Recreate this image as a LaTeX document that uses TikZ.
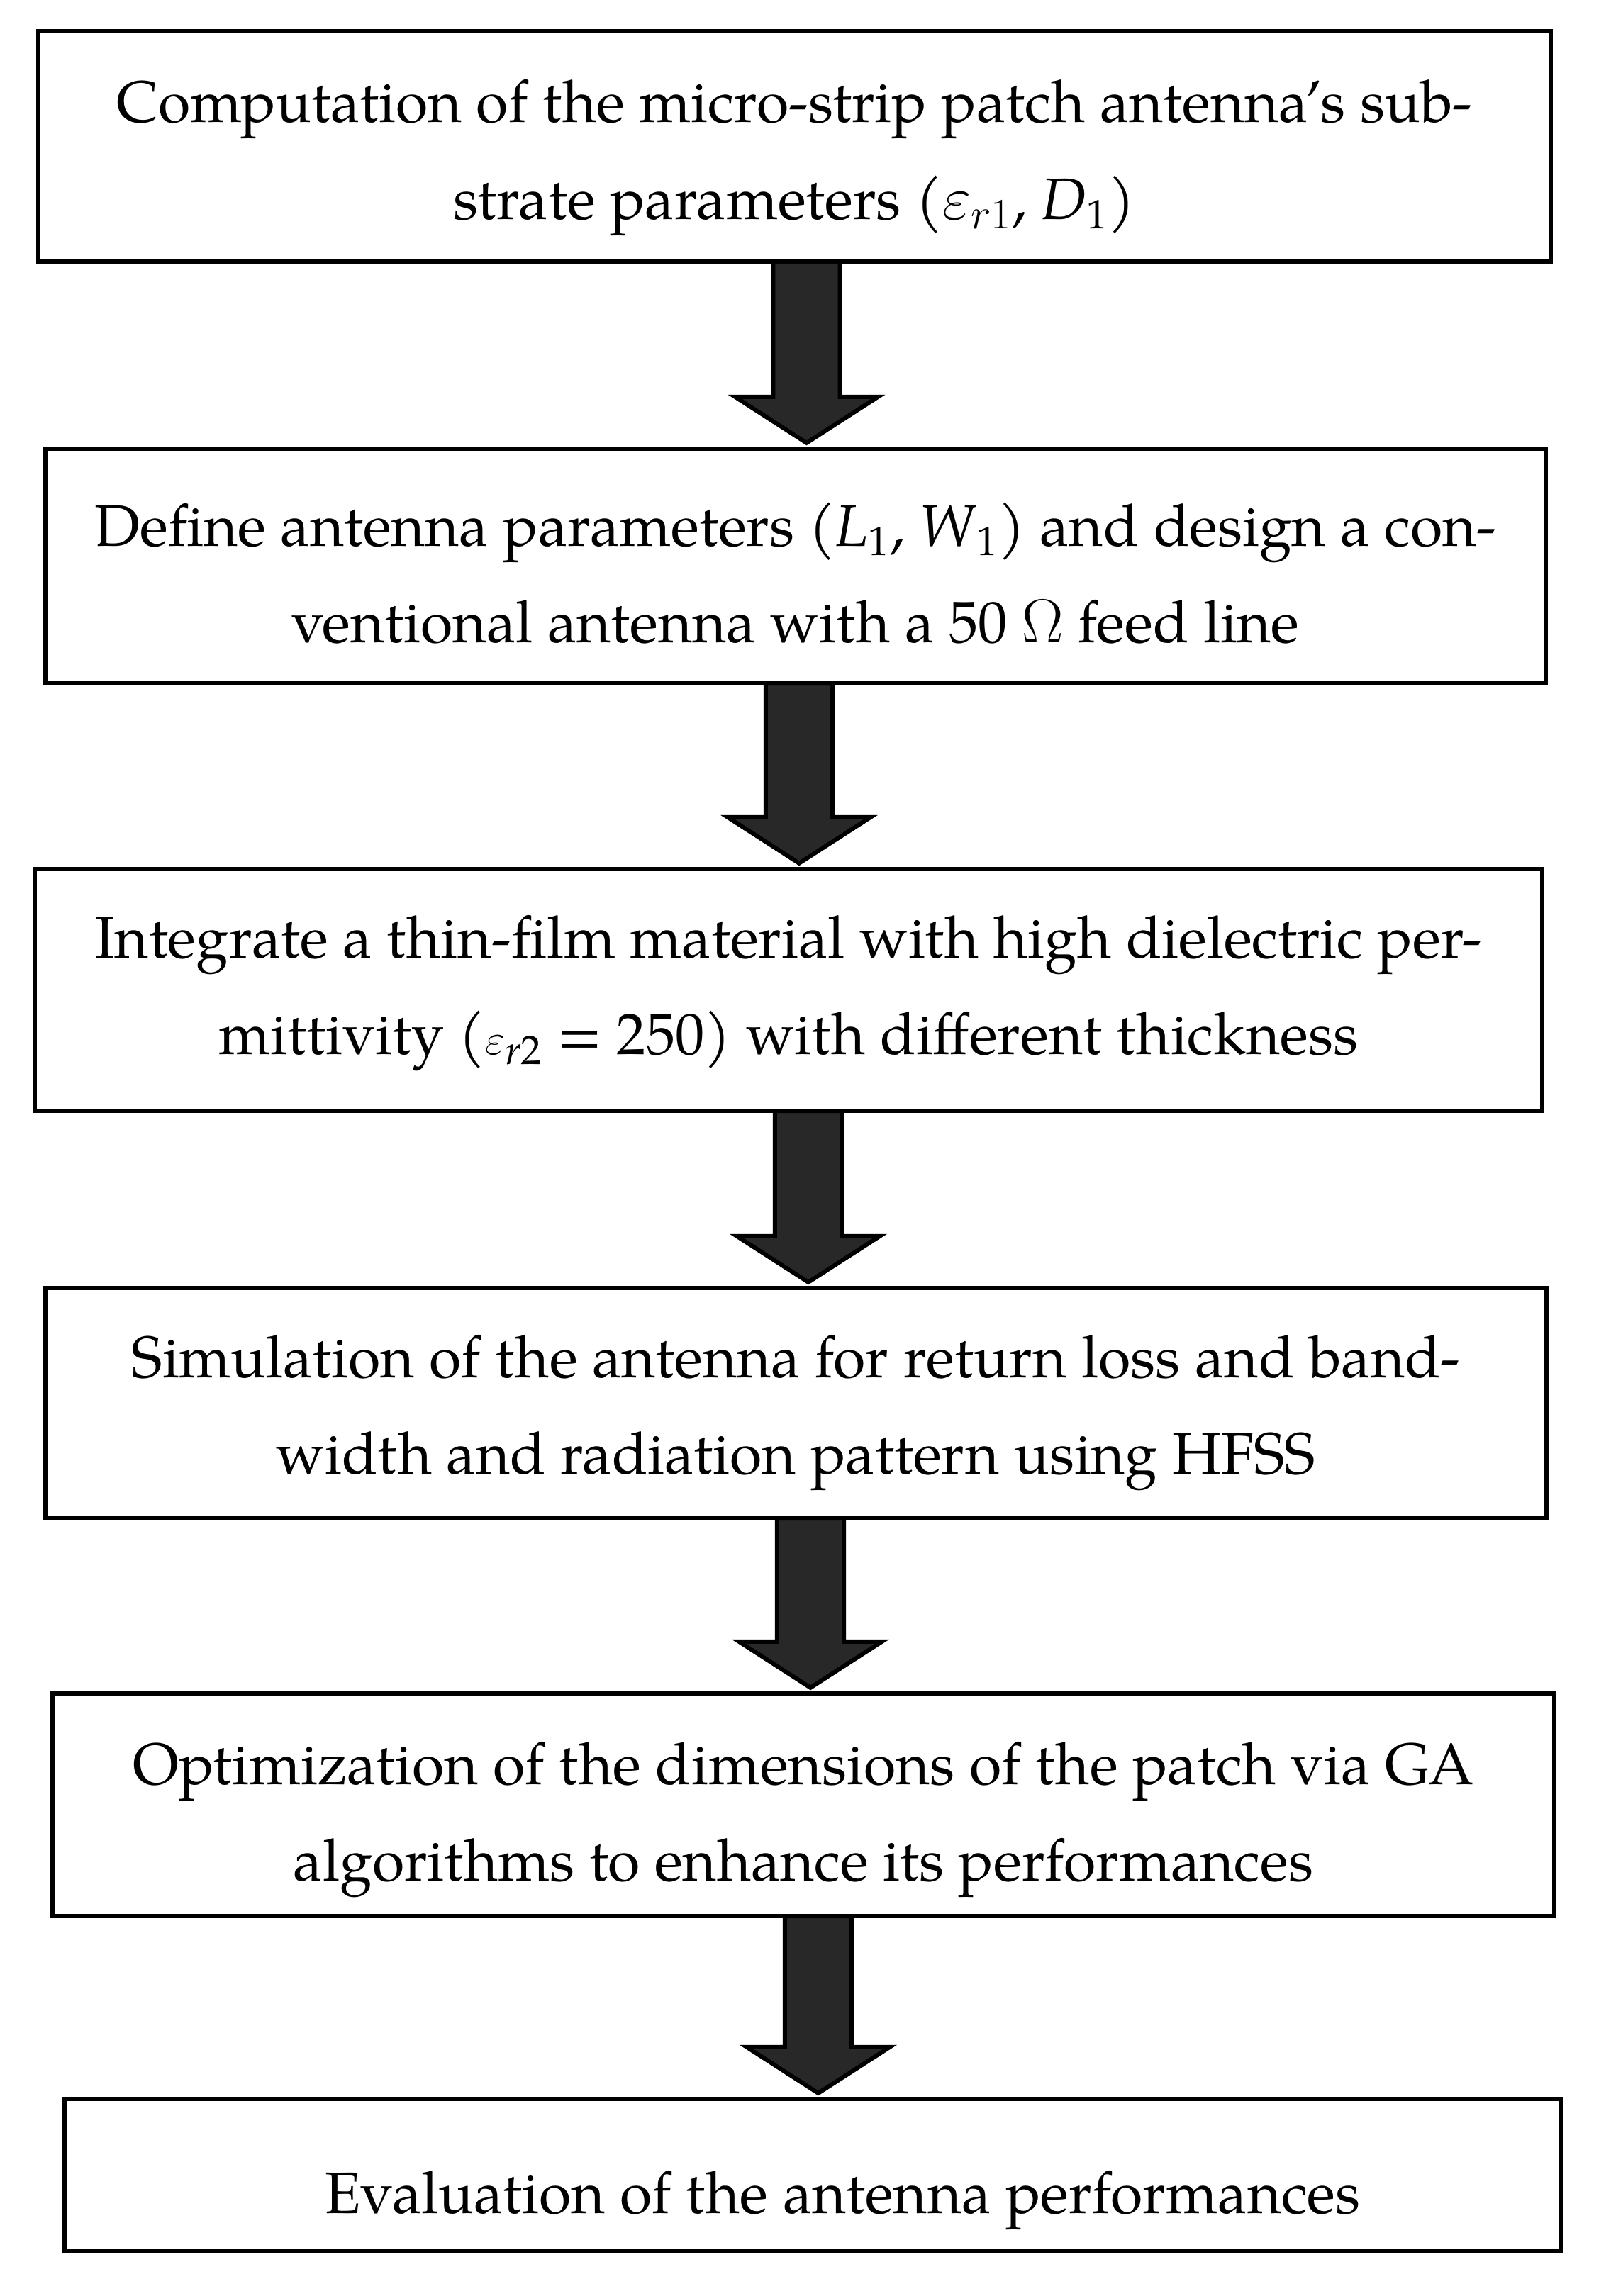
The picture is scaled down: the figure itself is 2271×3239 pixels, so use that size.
\documentclass[tikz,border=0pt]{standalone}
\usepackage{fontspec}
\setmainfont{TeX Gyre Pagella}
\usetikzlibrary{calc}
\definecolor{arrfill}{HTML}{282828}
\newcommand\blockarrow[3]{%
  \draw[blockarr] let \p1=($(#1.south)+(#3,0)$), \p2=(#2.north) in
    (\x1-13.4pt,\y1) -- (\x1+13.4pt,\y1) -- (\x1+13.4pt,\y2+20.8pt)
    -- (\x1+28.7pt,\y2+20.8pt) -- (\x1,\y2+2.3pt) -- (\x1-28.7pt,\y2+20.8pt)
    -- (\x1-13.4pt,\y2+20.8pt) -- cycle;}
\begin{document}
\begin{tikzpicture}[x=0.01cm,y=-0.01cm,
  box/.style={draw=black, line width=1.7pt, inner sep=0pt, outer sep=0pt},
  txt/.style={font=\fontsize{23.5pt}{38.7pt}\selectfont, align=center, inner sep=0pt},
  blockarr/.style={draw=black, fill=arrfill, line width=1.7pt, line join=miter}]
\useasboundingbox (0,0) rectangle (2271,3239);
\fill[white] (0,0) rectangle (2271,3239);

\node[box, minimum width=21.31cm, minimum height=3.25cm] (b1) at (1120.5,206.5) {};
\node[box, minimum width=21.14cm, minimum height=3.31cm] (b2) at (1122,798.5) {};
\node[box, minimum width=21.24cm, minimum height=3.41cm] (b3) at (1112,1396.5) {};
\node[box, minimum width=21.15cm, minimum height=3.24cm] (b4) at (1122.5,1979) {};
\node[box, minimum width=21.16cm, minimum height=3.14cm] (b5) at (1133,2546) {};
\node[box, minimum width=21.09cm, minimum height=2.14cm] (b6) at (1146.5,3068) {};

\node[txt] (t1) at ($(b1.center)+(0,16)$) {Computation of the micro-strip patch antenna’s sub-\\strate parameters ($\varepsilon_{r1}$, \textit{D}\textsubscript{1})};
\node[txt] (t2) at ($(b2.center)+(0,10)$) {Define antenna parameters (\textit{L}\textsubscript{1}, \textit{W}\textsubscript{1}) and design a con-\\ventional antenna with a 50 $\Omega$ feed line};
\node[txt] (t3) at ($(b3.center)+(0,5)$) {Integrate a thin-film material with high dielectric per-\\mittivity ({\fontsize{18pt}{20pt}\selectfont$\varepsilon$}\textsubscript{\textit{r}2} = 250) with different thickness};
\node[txt] (t4) at ($(b4.center)+(0,14)$) {Simulation of the antenna for return loss and band-\\width and radiation pattern using HFSS};
\node[txt] (t5) at ($(b5.center)+(0,21)$) {Optimization of the dimensions of the patch via GA\\algorithms to enhance its performances};
\node[txt] (t6) at ($(b6.center)+(42,36)$) {Evaluation of the antenna performances};

\blockarrow{b1}{b2}{17}
\blockarrow{b2}{b3}{5}
\blockarrow{b3}{b4}{28}
\blockarrow{b4}{b5}{20.5}
\blockarrow{b5}{b6}{21}
\end{tikzpicture}
\end{document}
